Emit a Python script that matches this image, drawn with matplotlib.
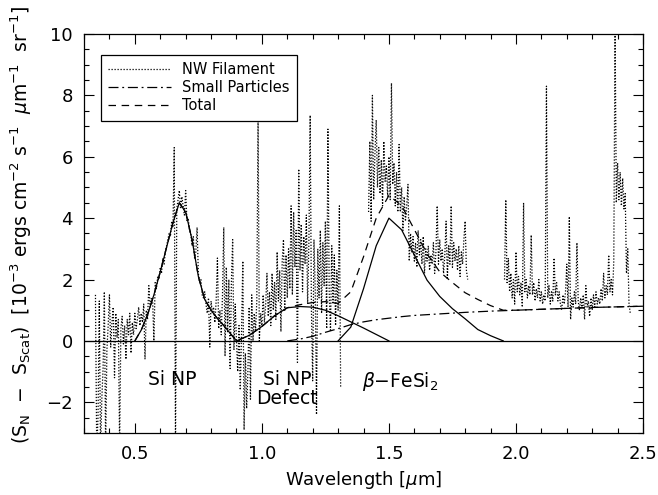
import numpy as np
import matplotlib
matplotlib.use("Agg")
import matplotlib.pyplot as plt
from matplotlib.ticker import MultipleLocator

# ---------------- data ----------------
# NW filament spectrum, three pieces (gaps at ~1.31-1.42 and ~1.81-1.955 um)
fil_range_1 = (0.345, 1.310)
fil_flux_1 = [
    1.5, -3.6, -2.5, 1.3, -3.6, -1.9, -0.9, 1.6, -3.5, -0.3,
    0.5, 1.5, -0.2, 0.6, 1.1, -1.2, 0.9, 0.1, 0.7, -3.5,
    0.4, 0.8, -0.1, 0.5, -0.6, 0.7, 0.2, 0.9, -0.4, 0.6,
    0.2, 0.9, 0.4, 0.7, 1.1, 0.5, 0.9, 0.6, 1.2, -0.6,
    1.0, 0.7, 1.8, 1.1, 1.4, 1.3, 0.0, 1.9, 1.7, 2.1,
    2.0, 2.4, 2.2, 2.7, 2.5, 2.9, 3.1, 3.3, 3.5, 3.4,
    3.9, 3.7, 6.3, -3.5, 4.3, 4.6, 4.9, 4.3, 4.7, 4.4,
    4.1, 4.9, 3.9, 4.0, 3.6, 3.5, 3.1, 3.4, 2.7, 2.9,
    3.7, 2.2, 1.9, 2.0, 1.5, 1.4, 1.6, 1.2, 0.9, 1.4,
    -0.2, 1.3, 0.9, 1.1, 0.6, 1.3, 2.7, 0.4, 1.0, 0.2,
    1.5, 3.7, -0.5, 2.4, 0.3, 2.0, -0.9, 1.9, 3.3, -0.3,
    1.2, 0.0, -1.0, 0.5, -1.6, 0.3, 2.6, -2.9, -0.4, -2.2,
    -1.0, 1.1, -1.9, 1.5, 0.0, 0.9, 0.3, 1.3, 7.35, 0.0,
    0.9, 0.5, 1.5, 0.6, 1.2, 2.2, 0.8, 1.6, 0.5, 2.2,
    1.0, 1.9, 0.7, 2.9, 1.3, 2.3, 0.3, 2.6, 3.3, 1.0,
    2.8, 1.4, 3.0, 1.7, 4.4, 1.5, 4.2, 2.4, 3.6, -0.7,
    5.6, 2.3, 3.8, 1.6, 3.4, 2.5, 4.1, 1.2, 3.2, 7.35,
    1.0, -1.3, 3.3, 1.7, -2.4, 3.0, 1.4, 3.6, 0.9, 3.2,
    1.8, 3.9, 0.4, 6.9, 1.6, 0.3, 3.1, 1.2, 2.8, 0.5,
    2.3, 1.0, 4.4, -1.5,
]
fil_range_2 = (1.420, 1.810)
fil_flux_2 = [
    4.2, 6.5, 3.9, 8.0, 4.6, 6.1, 7.2, 5.0, 6.3, 4.8,
    5.9, 4.4, 6.5, 5.2, 5.7, 4.7, 6.0, 4.6, 8.4, 5.1,
    5.8, 4.4, 5.5, 4.2, 6.4, 4.2, 5.0, 3.6, 4.7, 3.9,
    4.4, 5.1, 2.6, 3.5, 2.9, 3.4, 2.6, 3.2, 2.4, 3.6,
    2.8, 3.3, 2.5, 3.4, 2.2, 3.0, 2.6, 3.1, 2.3, 2.8,
    2.5, 3.2, 2.2, 2.9, 4.4, 2.5, 3.3, 2.6, 3.0, 2.2,
    2.8, 3.9, 2.0, 3.1, 2.5, 4.4, 2.4, 3.2, 2.6, 3.0,
    2.3, 3.1, 2.1, 2.9, 2.5, 3.3, 3.9, 2.3, 2.0,
]
fil_range_3 = (1.955, 2.450)
fil_flux_3 = [
    2.0, 4.6, 1.9, 2.7, 1.6, 2.2, 1.4, 2.0, 1.2, 2.9,
    1.6, 2.1, 1.5, 1.9, 1.1, 4.5, 1.6, 2.0, 1.4, 1.8,
    1.5, 3.45, 1.5, 1.9, 1.3, 1.7, 1.4, 2.0, 1.3, 1.6,
    1.2, 1.5, 1.3, 8.3, 1.4, 1.8, 1.2, 1.6, 1.3, 2.7,
    1.5, 1.9, 1.3, 1.6, 1.2, 1.0, 1.5, 1.2, 1.6, 2.5,
    1.1, 4.05, 0.7, 1.4, 1.1, 1.6, 1.2, 3.2, 1.3, 1.0,
    1.4, 1.1, 1.5, 0.7, 1.8, 1.1, 1.3, 0.8, 1.4, 1.0,
    1.5, 1.1, 1.6, 1.2, 1.4, 1.2, 1.7, 1.3, 2.2, 1.4,
    1.8, 1.5, 2.8, 1.6, 2.0, 1.5, 2.6, 10.3, 4.5, 5.8,
    4.6, 5.5, 4.4, 5.3, 4.3, 4.8, 2.2, 3.0, 1.2, 0.9,
]

# model components
sinp_wl = [0.50, 0.525, 0.55, 0.575, 0.60, 0.625, 0.65, 0.675, 0.70, 0.725,
           0.75, 0.775, 0.80, 0.825, 0.85, 0.875, 0.90]
sinp_flux = [0.0, 0.35, 0.85, 1.5, 2.25, 3.05, 3.85, 4.5, 4.2, 3.3,
             2.1, 1.35, 1.0, 0.73, 0.5, 0.25, 0.0]

defect_wl = [0.90, 0.95, 1.00, 1.05, 1.10, 1.15, 1.20, 1.25, 1.30, 1.35, 1.40, 1.45, 1.50]
defect_flux = [0.0, 0.18, 0.47, 0.82, 1.08, 1.12, 1.10, 1.00, 0.82, 0.62, 0.42, 0.21, 0.0]

fesi_wl = [1.30, 1.35, 1.40, 1.45, 1.50, 1.55, 1.60, 1.65, 1.70, 1.75, 1.80, 1.85, 1.90, 1.95]
fesi_flux = [0.0, 0.45, 1.7, 3.1, 4.0, 3.62, 2.8, 1.98, 1.45, 1.05, 0.72, 0.37, 0.17, 0.0]

small_wl = [1.10, 1.15, 1.20, 1.25, 1.30, 1.35, 1.40, 1.45, 1.50, 1.55, 1.60, 1.70,
            1.80, 1.90, 2.00, 2.10, 2.20, 2.30, 2.40, 2.50]
small_flux = [0.0, 0.06, 0.15, 0.28, 0.40, 0.53, 0.62, 0.69, 0.74, 0.79, 0.83, 0.88,
              0.93, 0.97, 1.00, 1.03, 1.06, 1.09, 1.11, 1.13]

total_wl = [0.50, 0.525, 0.55, 0.575, 0.60, 0.625, 0.65, 0.675, 0.70, 0.725,
            0.75, 0.775, 0.80, 0.825, 0.85, 0.875, 0.90, 0.95, 1.00, 1.05,
            1.10, 1.15, 1.20, 1.25, 1.30, 1.35, 1.40, 1.45, 1.50, 1.55,
            1.60, 1.65, 1.70, 1.75, 1.80, 1.85, 1.90, 1.95, 2.00, 2.10,
            2.20, 2.30, 2.40, 2.50]
total_flux = [0.0, 0.35, 0.85, 1.5, 2.25, 3.05, 3.85, 4.5, 4.2, 3.3,
              2.1, 1.35, 1.0, 0.73, 0.5, 0.25, 0.0, 0.18, 0.47, 0.82,
              1.08, 1.18, 1.25, 1.28, 1.22, 1.6, 2.74, 4.0, 4.74, 4.41,
              3.63, 2.84, 2.25, 1.9, 1.57, 1.35, 1.15, 1.0, 1.0, 1.03,
              1.06, 1.09, 1.11, 1.13]

labels = ["NW Filament", "Small Particles", "Total"]

# ---------------- plot ----------------
plt.rcParams['font.family'] = ['DejaVu Sans']
plt.rcParams['mathtext.fontset'] = 'dejavusans'

fig = plt.figure(figsize=(6.58, 4.95), dpi=100)
ax = fig.add_axes([0.1277, 0.1253, 0.8495, 0.806])

dot = (0, (1.0, 1.4))
for rng, flux in [(fil_range_1, fil_flux_1), (fil_range_2, fil_flux_2), (fil_range_3, fil_flux_3)]:
    wl = np.linspace(rng[0], rng[1], len(flux))
    ax.plot(wl, flux, color='black', lw=0.9, linestyle=dot, label=labels[0] if rng == fil_range_1 else None)

ax.plot(small_wl, small_flux, color='black', lw=0.9, linestyle=(0, (8, 3, 1.5, 3)), label=labels[1])
ax.plot(total_wl, total_flux, color='black', lw=0.9, linestyle=(0, (6, 4.5)), label=labels[2])

for wl, flux in [(sinp_wl, sinp_flux), (defect_wl, defect_flux), (fesi_wl, fesi_flux)]:
    ax.plot(wl, flux, color='black', lw=0.9)

ax.axhline(0, color='black', lw=0.9)

ax.set_xlim(0.3, 2.5)
ax.set_ylim(-3, 10)
ax.xaxis.set_major_locator(MultipleLocator(0.5))
ax.xaxis.set_minor_locator(MultipleLocator(0.1))
ax.yaxis.set_major_locator(MultipleLocator(2))
ax.yaxis.set_minor_locator(MultipleLocator(0.5))
ax.xaxis.set_major_formatter(matplotlib.ticker.FormatStrFormatter('%.1f'))
ax.tick_params(which='both', direction='in', top=True, right=True, labelsize=13, width=0.8)
ax.tick_params(which='major', length=7)
ax.tick_params(which='minor', length=3.5)
ax.tick_params(axis='x', pad=9)
ax.tick_params(axis='y', pad=8)
for s in ax.spines.values():
    s.set_linewidth(0.9)

ax.set_xlabel(r'Wavelength [$\mu$m]', fontsize=13, labelpad=4)
fig.text(0.033, 0.545,
         r'(S$_{\rm N}$  $-$  S$_{\rm Scat}$)  [10$^{-3}$ ergs cm$^{-2}$ s$^{-1}$  $\mu$m$^{-1}$  sr$^{-1}$]',
         rotation=90, ha='center', va='center', fontsize=13.5)

ax.text(0.646, -1.27, 'Si NP', fontsize=13.5, ha='center', va='center')
ax.text(1.10, -1.25, 'Si NP', fontsize=13.5, ha='center', va='center')
ax.text(1.10, -1.87, 'Defect', fontsize=13.5, ha='center', va='center')
ax.text(1.545, -1.33, r'$\beta$' + '\u2212FeSi$_2$', fontsize=13.5, ha='center', va='center')

leg = ax.legend(loc='upper left', bbox_to_anchor=(0.030, 0.947), fontsize=10.5,
                frameon=True, fancybox=False, edgecolor='black', framealpha=1,
                handlelength=4.3, handletextpad=0.8, labelspacing=0.2,
                borderpad=0.5, borderaxespad=0)
leg.get_frame().set_linewidth(0.9)

fig.savefig('out.png', dpi=100)
